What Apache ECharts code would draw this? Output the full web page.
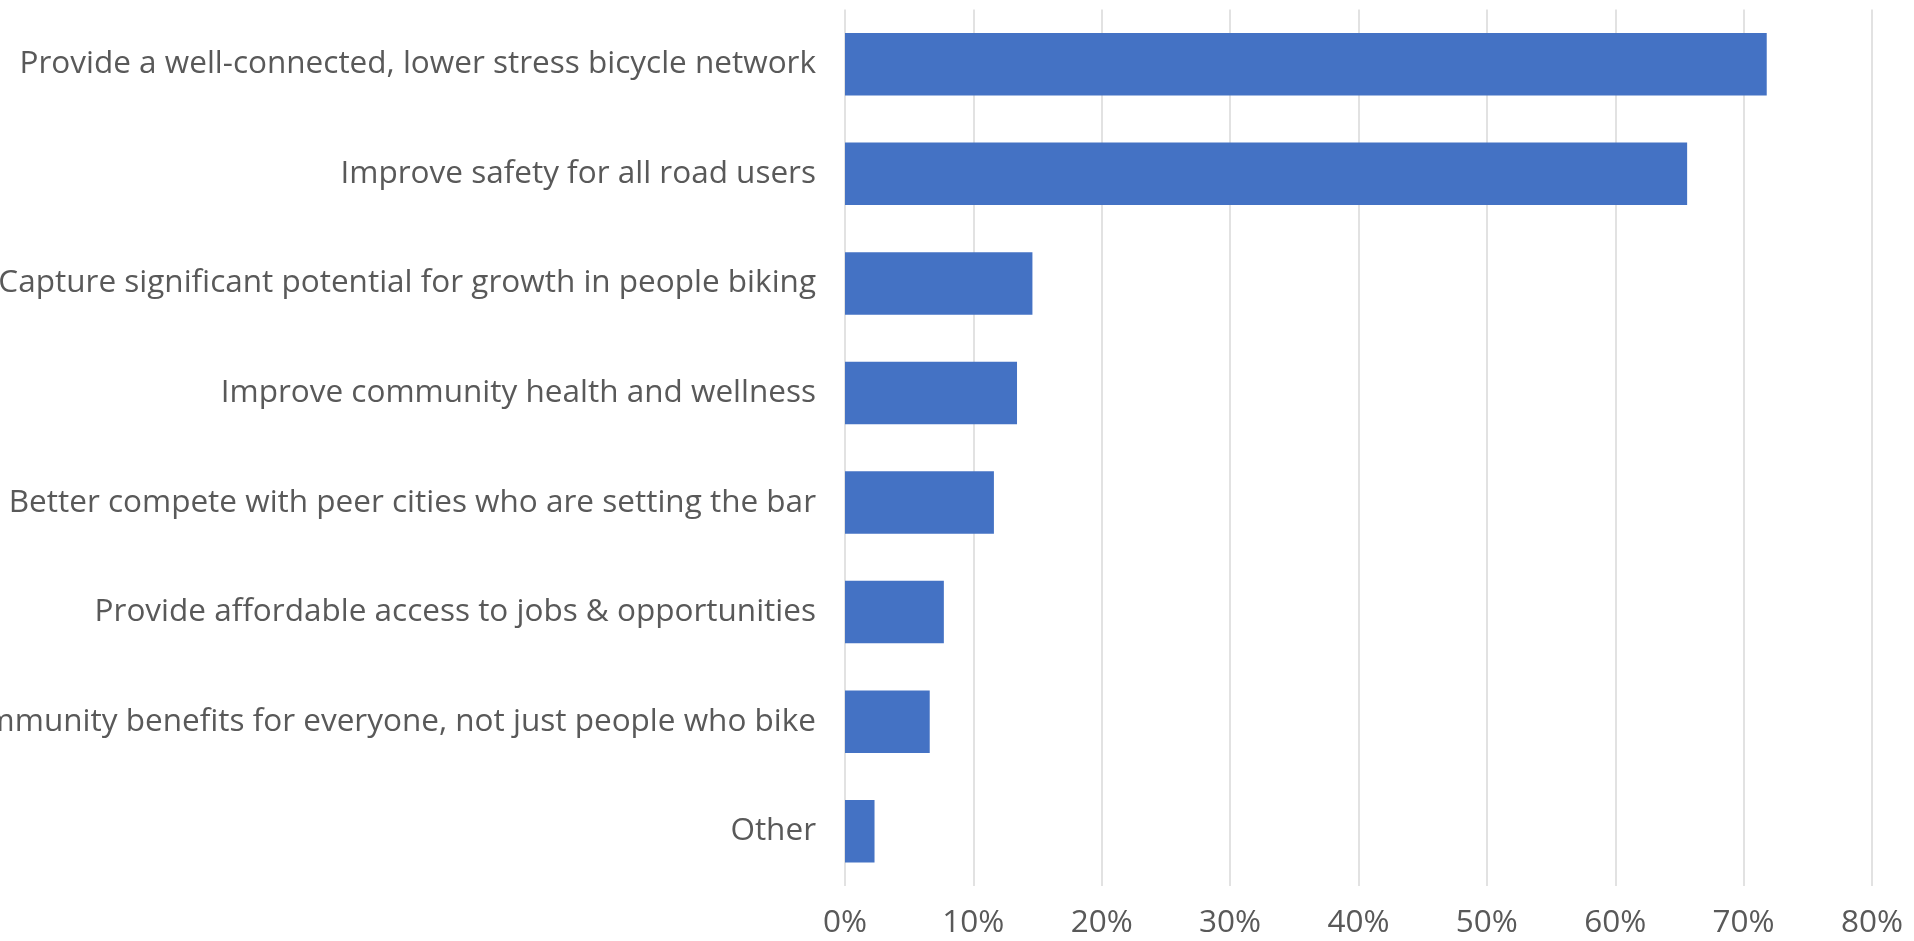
<!DOCTYPE html>
<html>
<head>
<meta charset="utf-8">
<script src="https://cdn.jsdelivr.net/npm/echarts@6/dist/echarts.min.js"></script>
<style>
  html, body { margin: 0; padding: 0; background: #ffffff; }
  #chart { width: 1914px; height: 941px; }
</style>
</head>
<body>
<div id="chart"></div>
<script>
// Reasons for building the bike network, share of responses (%)
const categories = [
  "Provide a well-connected, lower stress bicycle network",
  "Improve safety for all road users",
  "Capture significant potential for growth in people biking",
  "Improve community health and wellness",
  "Better compete with peer cities who are setting the bar",
  "Provide affordable access to jobs & opportunities",
  "Provide community benefits for everyone, not just people who bike",
  "Other"
];
const shares = [71.8, 65.6, 14.6, 13.4, 11.6, 7.7, 6.6, 2.3];
const axisMax = 80;
const axisStep = 10;

const textColor = '#595959';
const fontFamily = '"Open Sans", Roboto, sans-serif';
const fontSize = 31.5;

const chart = echarts.init(document.getElementById('chart'), null, { renderer: 'canvas' });
chart.setOption({
  animation: false,
  backgroundColor: '#ffffff',
  grid: {
    left: 845, right: 42, top: 9.5, bottom: 55,
    containLabel: false,
    outerBoundsMode: 'none'
  },
  xAxis: {
    type: 'value',
    min: 0,
    max: axisMax,
    interval: axisStep,
    axisLine: { show: false },
    axisTick: { show: false },
    splitLine: { show: true, lineStyle: { color: '#d9d9d9', width: 1.5 } },
    axisLabel: {
      formatter: '{value}%',
      color: textColor,
      fontSize: fontSize,
      fontFamily: fontFamily,
      margin: 21,
      hideOverlap: false
    }
  },
  yAxis: {
    type: 'category',
    data: categories,
    inverse: true,
    axisLine: { show: false },
    axisTick: { show: false },
    splitLine: { show: false },
    axisLabel: {
      color: textColor,
      fontSize: fontSize,
      fontFamily: fontFamily,
      margin: 29,
      interval: 0
    }
  },
  series: [{
    type: 'bar',
    data: shares,
    barCategoryGap: '43%',
    itemStyle: { color: '#4472C4' }
  }]
});
</script>
</body>
</html>
